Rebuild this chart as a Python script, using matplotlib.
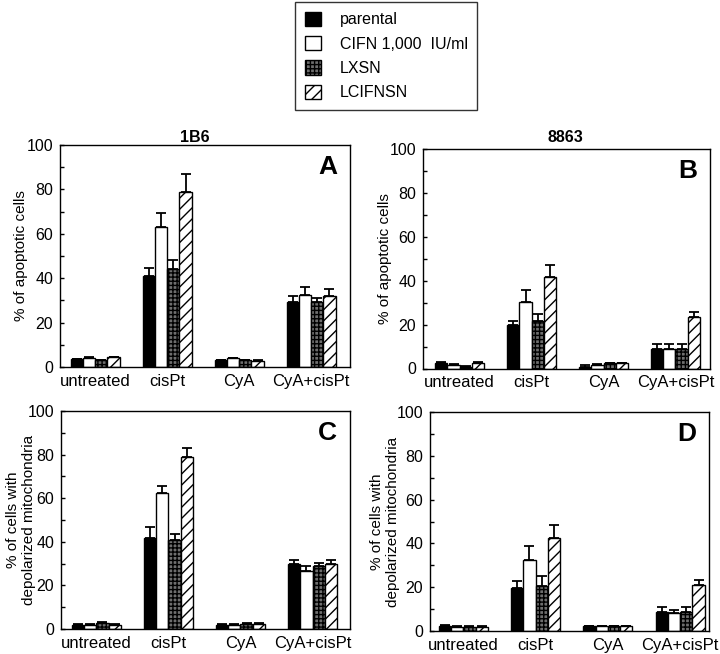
import numpy as np
import matplotlib
matplotlib.use("Agg")
import matplotlib.pyplot as plt
from matplotlib.patches import Patch

plt.rcParams['font.family'] = ['Liberation Sans', 'DejaVu Sans']
plt.rcParams['hatch.linewidth'] = 1.0

categories = ["untreated", "cisPt", "CyA", "CyA+cisPt"]
series = ["parental", "CIFN 1,000  IU/ml", "LXSN", "LCIFNSN"]

# Panel A: 1B6, % apoptotic cells
A_vals = [[3.4, 40.8, 3.0, 29.5],
          [4.0, 63.0, 3.9, 32.5],
          [3.0, 44.0, 3.0, 29.2],
          [4.3, 78.9, 2.8, 31.8]]
A_err = [[0.3, 4.0, 0.3, 2.5],
         [0.3, 6.3, 0.3, 3.5],
         [0.3, 4.0, 0.3, 2.0],
         [0.3, 8.0, 0.2, 3.4]]
# Panel B: 8863, % apoptotic cells
B_vals = [[2.6, 19.6, 0.6, 9.0],
          [1.8, 30.5, 1.8, 9.0],
          [0.8, 21.5, 2.4, 9.0],
          [2.6, 41.8, 2.4, 23.5]]
B_err = [[0.2, 2.2, 1.0, 2.0],
         [0.2, 5.3, 0.2, 2.0],
         [0.2, 3.2, 0.2, 2.0],
         [0.2, 5.3, 0.2, 2.3]]
# Panel C: 1B6, % depolarized mitochondria
C_vals = [[2.0, 41.9, 2.0, 29.6],
          [2.0, 62.5, 2.0, 26.4],
          [2.7, 40.7, 2.5, 28.7],
          [2.0, 79.0, 2.3, 30.0]]
C_err = [[0.2, 4.7, 0.2, 2.1],
         [0.2, 3.0, 0.2, 2.3],
         [0.3, 2.9, 0.3, 1.8],
         [0.2, 4.1, 0.3, 1.7]]
# Panel D: 8863, % depolarized mitochondria
D_vals = [[2.3, 19.5, 2.2, 8.6],
          [2.0, 32.3, 2.2, 8.0],
          [2.0, 20.6, 2.2, 8.6],
          [2.0, 42.6, 2.2, 20.8]]
D_err = [[0.3, 3.4, 0.1, 2.4],
         [0.1, 6.5, 0.1, 1.5],
         [0.1, 4.6, 0.1, 2.4],
         [0.1, 5.6, 0.1, 2.7]]

styles = [dict(facecolor="black", edgecolor="black", hatch=None),
          dict(facecolor="white", edgecolor="black", hatch=None),
          dict(facecolor="#6e6e6e", edgecolor="black", hatch="++++"),
          dict(facecolor="white", edgecolor="black", hatch="///")]

fig = plt.figure(figsize=(7.2, 6.54), dpi=100)

W, H = 720.0, 654.0
def rect(l, t, r, b):
    return [l / W, 1 - b / H, (r - l) / W, (b - t) / H]

# (letter, values, errors, rect, xlim, ylabel, ylabel x-center in px)
panels = [
    ("A", A_vals, A_err, rect(60, 145, 350, 367), (-0.49, 3.54), "% of apoptotic cells", 21),
    ("B", B_vals, B_err, rect(423, 149, 710, 368.5), (-0.51, 3.48), "% of apoptotic cells", 385),
    ("C", C_vals, C_err, rect(61, 411, 350, 629), (-0.49, 3.52), "% of cells with\ndepolarized mitochondria", 21),
    ("D", D_vals, D_err, rect(430, 412, 709, 631), (-0.46, 3.40), "% of cells with\ndepolarized mitochondria", 385),
]

bw = 0.17
x = np.arange(len(categories))
for letter, vals, errs, pos, xl, ylab, ylx in panels:
    ax = fig.add_axes(pos)
    for i, (v, e) in enumerate(zip(vals, errs)):
        xs = x + (i - 1.5) * bw
        st = styles[i]
        ax.bar(xs, v, width=bw, facecolor=st["facecolor"], edgecolor=st["edgecolor"],
               hatch=st["hatch"], linewidth=1.0, zorder=2)
        ax.errorbar(xs, v, yerr=[np.zeros(len(e)), e], fmt="none", ecolor="black",
                    elinewidth=1.3, capsize=3.5, capthick=1.3, zorder=3)
    ax.set_xlim(*xl)
    ax.set_ylim(0, 100)
    ax.set_yticks(np.arange(0, 101, 20))
    ax.set_yticks(np.arange(10, 100, 20), minor=True)
    ax.tick_params(axis="y", which="both", direction="in", length=3, width=1,
                   labelsize=11.5, pad=5)
    ax.set_xticks(x)
    ax.set_xticklabels(categories, fontsize=12)
    ax.tick_params(axis="x", length=0, pad=5)
    for sp in ax.spines.values():
        sp.set_linewidth(1.0)
    l_px = pos[0] * W
    w_px = pos[2] * W
    ax.text((ylx - l_px) / w_px, 0.5, ylab, transform=ax.transAxes, rotation=90,
            ha="center", va="center", multialignment="center", fontsize=11,
            linespacing=1.2)
    ax.text(0.955, 0.90, letter, transform=ax.transAxes, ha="right", va="center",
            fontsize=19, fontweight="bold")

legend_handles = [Patch(facecolor=st["facecolor"], edgecolor="black",
                        hatch=st["hatch"], label=series[i]) for i, st in enumerate(styles)]

fig.text(195 / W, 1 - 137 / H, "1B6", ha="center", va="center", fontsize=11.5, fontweight="bold")
fig.text(565 / W, 1 - 137 / H, "8863", ha="center", va="center", fontsize=11.5, fontweight="bold")

leg = fig.legend(handles=legend_handles, loc="upper left",
                 bbox_to_anchor=(295 / W, 1 - 2 / H), frameon=True, fancybox=False,
                 edgecolor="black", fontsize=11.5, handlelength=1.0, handleheight=1.0,
                 handletextpad=1.2, labelspacing=0.55, borderpad=0.6, borderaxespad=0)
leg.get_frame().set_linewidth(1.0)

fig.savefig("out.png", dpi=100)
